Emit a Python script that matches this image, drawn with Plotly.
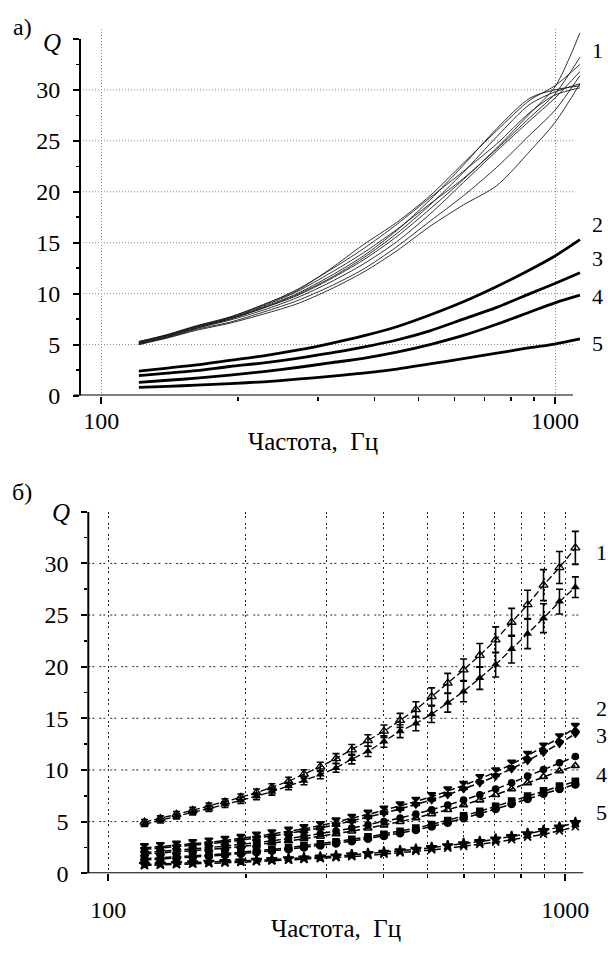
import plotly.graph_objects as go

W, H = 608, 953

# ---------------- panel а) data ----------------
freq_a = [121, 140, 162, 192, 228, 270, 319, 378, 448, 530, 628, 744, 881, 1000, 1135]
q1_run_a = [5.3, 5.95, 6.8, 7.6, 8.7, 10.0, 11.7, 13.7, 16.2, 19.2, 22.6, 26.2, 29.2, 30.0, 30.4]
q1_run_b = [5.2, 5.85, 6.7, 7.5, 8.6, 9.9, 11.5, 13.5, 15.9, 18.7, 21.9, 25.4, 28.6, 29.8, 30.6]
q1_run_c = [5.1, 5.8, 6.6, 7.5, 8.6, 9.8, 11.4, 13.3, 15.6, 18.3, 21.2, 24.3, 27.7, 30.3, 35.6]
q1_run_d = [5.2, 5.9, 6.7, 7.6, 8.8, 10.2, 12.0, 14.0, 16.3, 18.8, 21.3, 24.2, 27.3, 29.6, 33.2]
q1_run_e = [5.0, 5.75, 6.6, 7.4, 8.4, 9.6, 11.1, 12.9, 15.1, 17.8, 20.9, 24.0, 27.0, 29.2, 31.8]
q1_run_f = [5.1, 5.7, 6.5, 7.2, 8.2, 9.3, 10.7, 12.4, 14.6, 17.1, 19.6, 22.4, 25.6, 28.0, 31.4]
q1_run_g = [5.0, 5.65, 6.4, 7.1, 8.0, 9.0, 10.4, 12.1, 14.2, 16.6, 18.7, 20.6, 24.0, 26.8, 30.6]
q1_run_h = [5.2, 5.95, 6.8, 7.7, 8.9, 10.4, 12.3, 14.4, 16.8, 19.4, 22.0, 24.7, 27.8, 29.5, 30.2]
q1_run_i = [5.3, 6.0, 6.85, 7.7, 8.95, 10.3, 12.4, 14.8, 17.0, 19.6, 22.8, 26.0, 29.0, 30.4, 32.5]
q2_a = [2.4, 2.7, 3.0, 3.45, 3.9, 4.45, 5.1, 5.85, 6.75, 7.9, 9.2, 10.7, 12.35, 13.7, 15.3]
q3_a = [1.95, 2.2, 2.45, 2.85, 3.2, 3.65, 4.15, 4.75, 5.45, 6.35, 7.5, 8.65, 10.0, 11.0, 12.05]
q4_a = [1.3, 1.5, 1.7, 2.0, 2.35, 2.75, 3.2, 3.65, 4.25, 5.0, 5.9, 7.0, 8.2, 9.1, 9.85]
q5_a = [0.8, 0.9, 1.02, 1.17, 1.35, 1.6, 1.88, 2.2, 2.6, 3.1, 3.62, 4.15, 4.7, 5.05, 5.55]

# ---------------- panel б) data ----------------
freq_b = [120, 130, 141, 153, 166, 180, 195, 211, 228, 248, 268, 291, 315, 341,
          370, 401, 435, 471, 510, 553, 599, 650, 704, 763, 827, 896, 971, 1052]
q1_open = [4.95, 5.3, 5.7, 6.1, 6.5, 6.9, 7.35, 7.8, 8.3, 8.9, 9.6, 10.3, 11.1, 11.95,
           12.85, 13.75, 14.8, 15.85, 17.1, 18.4, 19.7, 21.1, 22.6, 24.3, 26.0, 27.9, 29.6, 31.5]
q1_open_err = [0.25, 0.25, 0.27, 0.28, 0.3, 0.3, 0.32, 0.35, 0.37, 0.4, 0.42, 0.45, 0.48, 0.52,
               0.56, 0.6, 0.68, 0.75, 0.85, 0.95, 1.05, 1.15, 1.25, 1.35, 1.4, 1.5, 1.55, 1.6]
q1_fill = [4.75, 5.1, 5.5, 5.9, 6.25, 6.65, 7.05, 7.45, 7.9, 8.45, 8.95, 9.55, 10.2, 11.05,
           11.8, 12.75, 13.75, 14.5, 15.4, 16.5, 17.6, 18.9, 20.2, 21.7, 23.2, 24.7, 26.3, 27.7]
q1_fill_err = [0.22, 0.23, 0.24, 0.25, 0.27, 0.28, 0.3, 0.32, 0.34, 0.36, 0.38, 0.4, 0.43, 0.46,
               0.5, 0.55, 0.62, 0.7, 0.8, 0.9, 1.0, 1.1, 1.2, 1.35, 1.45, 1.4, 1.2, 1.0]
q2_fill = [2.45, 2.57, 2.7, 2.85, 3.0, 3.17, 3.35, 3.57, 3.8, 4.05, 4.3, 4.6, 4.95, 5.3,
           5.7, 6.1, 6.5, 6.95, 7.4, 7.95, 8.5, 9.15, 9.8, 10.55, 11.4, 12.2, 13.1, 14.1]
q2_open = [2.3, 2.42, 2.55, 2.7, 2.85, 3.0, 3.18, 3.38, 3.6, 3.85, 4.1, 4.38, 4.7, 5.05,
           5.43, 5.82, 6.22, 6.65, 7.1, 7.6, 8.15, 8.75, 9.4, 10.1, 10.9, 11.7, 12.55, 13.5]
q3_fill = [2.0, 2.1, 2.22, 2.35, 2.48, 2.62, 2.78, 2.95, 3.14, 3.35, 3.57, 3.82, 4.08, 4.37,
           4.68, 5.0, 5.35, 5.73, 6.15, 6.6, 7.08, 7.6, 8.15, 8.75, 9.4, 10.05, 10.7, 11.3]
q3_open = [1.85, 1.95, 2.05, 2.17, 2.3, 2.43, 2.58, 2.74, 2.92, 3.12, 3.33, 3.56, 3.8, 4.07,
           4.36, 4.66, 4.99, 5.35, 5.73, 6.15, 6.6, 7.08, 7.6, 8.15, 8.75, 9.35, 9.9, 10.4]
q4_fill = [1.4, 1.48, 1.57, 1.67, 1.78, 1.9, 2.02, 2.16, 2.31, 2.47, 2.65, 2.84, 3.05, 3.28,
           3.52, 3.78, 4.06, 4.37, 4.72, 5.1, 5.55, 6.0, 6.48, 6.98, 7.48, 7.98, 8.45, 8.9]
q4_open = [1.28, 1.36, 1.45, 1.55, 1.66, 1.77, 1.89, 2.03, 2.17, 2.33, 2.5, 2.69, 2.89, 3.11,
           3.35, 3.6, 3.88, 4.18, 4.52, 4.9, 5.32, 5.76, 6.22, 6.7, 7.2, 7.7, 8.15, 8.6]
q5_fill = [0.85, 0.9, 0.95, 1.0, 1.06, 1.12, 1.18, 1.25, 1.32, 1.4, 1.48, 1.57, 1.67, 1.78,
           1.9, 2.03, 2.17, 2.32, 2.48, 2.66, 2.86, 3.07, 3.3, 3.55, 3.83, 4.13, 4.47, 4.9]
q5_open = [0.75, 0.79, 0.84, 0.89, 0.94, 1.0, 1.06, 1.12, 1.19, 1.26, 1.34, 1.42, 1.51, 1.61,
           1.72, 1.84, 1.97, 2.11, 2.26, 2.42, 2.6, 2.8, 3.01, 3.24, 3.49, 3.77, 4.1, 4.5]

# ---------------- ticks / labels ----------------
x_major = [100, 1000]
x_major_text = ["100", "1000"]
x_minor = [200, 300, 400, 500, 600, 700, 800, 900]
y_major = [0, 5, 10, 15, 20, 25, 30, 35]
y_major_text = ["0", "5", "10", "15", "20", "25", "30", ""]
y_minor = [2.5, 7.5, 12.5, 17.5, 22.5, 27.5, 32.5]
grid_q = [5, 10, 15, 20, 25, 30]
curve_labels = ["1", "2", "3", "4", "5"]
x_title = "Частота,\u00a0 Гц"

FONT = "Liberation Serif"
BLACK = "#000000"

fig = go.Figure()

# panel а traces
for run in [q1_run_a, q1_run_b, q1_run_c, q1_run_d, q1_run_e, q1_run_f, q1_run_g, q1_run_h, q1_run_i]:
    fig.add_trace(go.Scatter(x=freq_a, y=run, mode="lines", xaxis="x", yaxis="y",
                             line=dict(color="#1a1a1a", width=0.9, shape="spline", smoothing=0.8)))
for grp in [q2_a, q3_a, q4_a, q5_a]:
    fig.add_trace(go.Scatter(x=freq_a, y=grp, mode="lines", xaxis="x", yaxis="y",
                             line=dict(color=BLACK, width=2.8, shape="spline", smoothing=0.8)))

# panel б traces
DASH = "7px,3px"
fig.add_trace(go.Scatter(x=freq_b, y=q1_open, mode="lines+markers", xaxis="x2", yaxis="y2",
                         line=dict(color=BLACK, width=1.3, dash=DASH),
                         marker=dict(symbol="triangle-up-open", size=8, color=BLACK, line=dict(width=1.3, color=BLACK)),
                         error_y=dict(type="data", array=q1_open_err, visible=True, thickness=1.6, width=3.5, color=BLACK)))
fig.add_trace(go.Scatter(x=freq_b, y=q1_fill, mode="lines+markers", xaxis="x2", yaxis="y2",
                         line=dict(color=BLACK, width=1.3, dash=DASH),
                         marker=dict(symbol="triangle-up", size=8, color=BLACK),
                         error_y=dict(type="data", array=q1_fill_err, visible=True, thickness=1.6, width=3.5, color=BLACK)))
series_b = [
    (q2_fill, "hourglass", 8), (q2_open, "triangle-down", 7),
    (q3_fill, "circle", 6), (q3_open, "triangle-up-open", 7),
    (q4_fill, "square", 6), (q4_open, "circle", 7),
    (q5_fill, "star", 8), (q5_open, "x-thin-open", 7),
]
for vals, sym, sz in series_b:
    fig.add_trace(go.Scatter(x=freq_b, y=vals, mode="lines+markers", xaxis="x2", yaxis="y2",
                             line=dict(color=BLACK, width=1.5, dash=DASH),
                             marker=dict(symbol=sym, size=sz, color=BLACK, line=dict(width=1.6, color=BLACK))))

# ---------------- geometry (window pixels) ----------------
def px2fx(p):
    return p / W

def px2fy(p):
    return 1 - p / H

# panel а
A_axis_x = 80.0
A_x100 = 101.3
A_dec = 453.7
A_right = 582.5
A_y0 = 401.0
A_unit = 10.33
A_ymax = 36
A_top = A_y0 - A_ymax * A_unit
A_xr = [2 + (A_axis_x - A_x100) / A_dec, 2 + (A_right - A_x100) / A_dec]

# panel б
B_axis_x = 88.3
B_x100 = 108.3
B_dec = 457.0
B_right = 592.0
B_y0 = 885.3
B_unit = 10.47
B_ymax = 35
B_top = B_y0 - B_ymax * B_unit
B_xr = [2 + (B_axis_x - B_x100) / B_dec, 2 + (B_right - B_x100) / B_dec]

tickfont = dict(family=FONT, size=24, color=BLACK)

def xaxis_cfg(domain, rng, anchor, grid_color, grid_dash, minor_grid, standoff):
    return dict(type="log", domain=domain, range=rng, anchor=anchor,
                showline=False, zeroline=False,
                tickmode="array", tickvals=x_major, ticktext=x_major_text,
                ticks="outside", ticklen=7, tickwidth=2, tickcolor=BLACK,
                tickfont=tickfont, ticklabelstandoff=standoff,
                showgrid=True, gridcolor=grid_color, griddash=grid_dash, gridwidth=1,
                minor=dict(tickmode="array", tickvals=x_minor, ticks="outside", ticklen=4,
                           tickwidth=1.5, tickcolor=BLACK, showgrid=minor_grid,
                           gridcolor=grid_color, griddash=grid_dash, gridwidth=1),
                fixedrange=True)

def yaxis_cfg(domain, rng, anchor):
    return dict(domain=domain, range=rng, anchor=anchor,
                showline=False, zeroline=False, showgrid=False,
                tickmode="array", tickvals=y_major, ticktext=y_major_text,
                ticks="outside", ticklen=6, tickwidth=2, tickcolor=BLACK,
                tickfont=tickfont, ticklabelstandoff=8,
                minor=dict(tickmode="array", tickvals=y_minor, ticks="outside", ticklen=3,
                           tickwidth=1.5, tickcolor=BLACK, showgrid=False),
                fixedrange=True)

A_grid_col = "#8a8a8a"
B_grid_col = "#222222"
A_dash = "1px,2px"
B_dash = "2px,2px,2px,5px"

fig.update_layout(
    width=W, height=H, autosize=False,
    margin=dict(l=0, r=0, t=0, b=0),
    paper_bgcolor="white", plot_bgcolor="white",
    showlegend=False, hovermode=False,
    xaxis=xaxis_cfg([px2fx(A_axis_x), px2fx(A_right)], A_xr, "y", A_grid_col, A_dash, False, -3),
    yaxis=yaxis_cfg([px2fy(A_y0), px2fy(A_top)], [0, A_ymax], "x"),
    xaxis2=xaxis_cfg([px2fx(B_axis_x), px2fx(B_right)], B_xr, "y2", B_grid_col, B_dash, True, 8),
    yaxis2=yaxis_cfg([px2fy(B_y0), px2fy(B_top)], [0, B_ymax], "x2"),
)

shapes = []
for q in grid_q:
    shapes.append(dict(type="line", xref="paper", yref="y", x0=px2fx(A_axis_x), x1=px2fx(573), y0=q, y1=q,
                       line=dict(color=A_grid_col, width=1, dash=A_dash), layer="below"))
    shapes.append(dict(type="line", xref="paper", yref="y2", x0=px2fx(B_axis_x), x1=px2fx(583.3), y0=q, y1=q,
                       line=dict(color=B_grid_col, width=1, dash=B_dash), layer="below"))
shapes.append(dict(type="line", xref="paper", yref="y", x0=px2fx(74), x1=px2fx(573), y0=0, y1=0,
                   line=dict(color=BLACK, width=2)))
shapes.append(dict(type="line", xref="paper", yref="y", x0=px2fx(A_axis_x), x1=px2fx(A_axis_x), y0=0, y1=35,
                   line=dict(color=BLACK, width=2)))
shapes.append(dict(type="line", xref="paper", yref="y2", x0=px2fx(81.7), x1=px2fx(583.3), y0=0, y1=0,
                   line=dict(color=BLACK, width=2)))
shapes.append(dict(type="line", xref="paper", yref="y2", x0=px2fx(B_axis_x), x1=px2fx(B_axis_x), y0=0, y1=35,
                   line=dict(color=BLACK, width=2)))
fig.update_layout(shapes=shapes)

ann = []
def add_text(txt, x, y, size=24):
    ann.append(dict(text=txt, xref="paper", yref="paper", x=px2fx(x), y=px2fy(y),
                    xanchor="center", yanchor="middle", showarrow=False,
                    font=dict(family=FONT, size=size, color=BLACK)))

add_text("а)", 22, 27)
add_text("<i>Q</i>", 52, 43, 25)
add_text(x_title, 313, 448, 25)
add_text("б)", 22, 499)
add_text("<i>Q</i>", 61, 520, 25)
add_text(x_title, 336, 941, 25)

label_y_a = [50.7, 227.3, 261.7, 300.7, 348.3]
label_y_b = [560, 718, 746, 785, 823.3]
for lab, ya, yb in zip(curve_labels, label_y_a, label_y_b):
    add_text(lab, 597, ya, 22)
    add_text(lab, 601, yb, 22)

fig.update_layout(annotations=ann)
fig.write_html(
    "out.html",
    config={"displayModeBar": False, "staticPlot": True},
    post_script="document.body.style.margin='0';document.body.style.padding='0';"
                "document.documentElement.style.overflow='hidden';document.body.style.overflow='hidden';",
)
